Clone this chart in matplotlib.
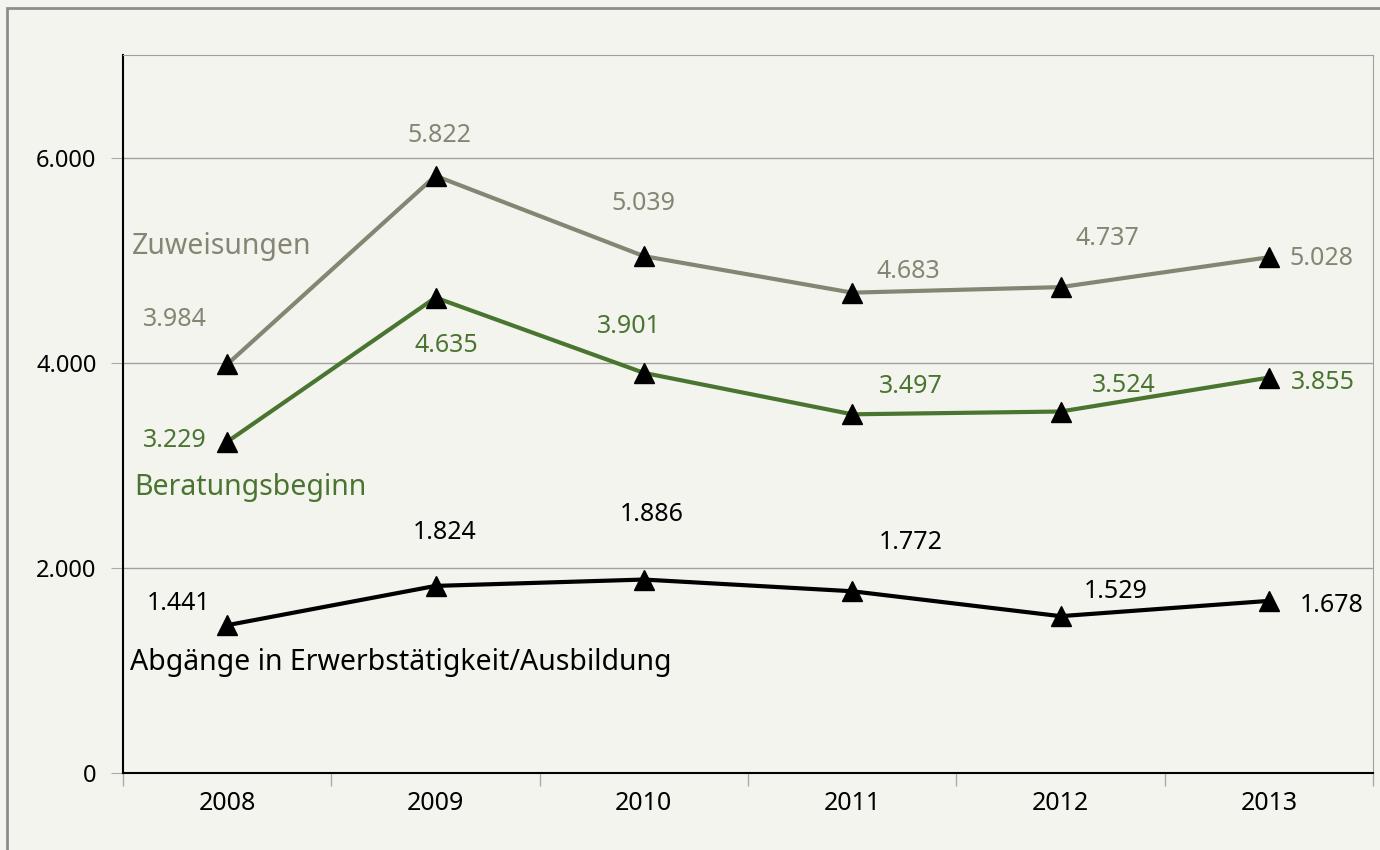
import matplotlib.pyplot as plt
from matplotlib.patches import Rectangle
from matplotlib.ticker import FuncFormatter

years = ['2008', '2009', '2010', '2011', '2012', '2013']
zuweisungen = [3984, 5822, 5039, 4683, 4737, 5028]
beratung = [3229, 4635, 3901, 3497, 3524, 3855]
abgaenge = [1441, 1824, 1886, 1772, 1529, 1678]

BG = '#f4f4ef'
GRAY = '#858573'
GREEN = '#4a7530'

plt.rcParams['font.family'] = ['Noto Sans', 'DejaVu Sans']

fig = plt.figure(figsize=(13.8, 8.5), dpi=100, facecolor=BG)
ax = fig.add_axes([123 / 1380, 77 / 850, 1250 / 1380, 718 / 850])
ax.set_facecolor(BG)

# outer frame
fig.patches.append(Rectangle((7 / 1380, -0.1), 1.2, 0.1 + 842 / 850, transform=fig.transFigure,
                             fill=False, edgecolor='#8c8c8c', linewidth=2, zorder=0))

x = list(range(len(years)))

# label offsets in pixels (dx, dy), positive dy = up
off_z = [(-52, 45), (4, 40), (0, 53), (56, 21), (47, 49), (53, -1)]
off_b = [(-52, 1), (11, -48), (-15, 46), (59, 28), (63, 26), (54, -5)]
off_a = [(-49, 22), (9, 53), (8, 65), (59, 49), (55, 25), (63, -5)]

series = [
    (zuweisungen, GRAY, off_z),
    (beratung, GREEN, off_b),
    (abgaenge, 'black', off_a),
]

for vals, col, offs in series:
    ax.plot(x, vals, color=col, linewidth=3, zorder=3)
    ax.plot(x, vals, linestyle='none', marker='^', markersize=14, color='black', zorder=4)
    for xi, v, (dx, dy) in zip(x, vals, offs):
        ax.annotate(f'{v:,}'.replace(',', '.'), (xi, v), xytext=(dx, dy),
                    textcoords='offset pixels', ha='center', va='center',
                    fontsize=18, color=col)

ax.text(-0.457, 5130, 'Zuweisungen', color=GRAY, fontsize=20.5, va='center', ha='left')
ax.text(-0.447, 2780, 'Beratungsbeginn', color=GREEN, fontsize=20.5, va='center', ha='left')
ax.text(-0.465, 1073, 'Abgänge in Erwerbstätigkeit/Ausbildung', color='black', fontsize=20.5,
        va='center', ha='left')

ax.set_xlim(-0.5, 5.5)
ax.set_ylim(0, 7000)
ax.set_yticks([0, 2000, 4000, 6000])
ax.yaxis.set_major_formatter(FuncFormatter(lambda v, p: f'{int(v):,}'.replace(',', '.')))
ax.grid(axis='y', color='#a0a0a0', linewidth=1)
ax.set_axisbelow(True)

ax.set_xticks([i - 0.5 for i in range(len(years) + 1)])
ax.set_xticklabels([])
ax.set_xticks(x, minor=True)
ax.set_xticklabels(years, minor=True)
ax.tick_params(axis='x', which='major', length=9, color='#aaaaaa', width=1)
ax.tick_params(axis='x', which='minor', length=0, labelsize=18, pad=13)
ax.tick_params(axis='y', length=9, color='#aaaaaa', labelsize=17, pad=10)

ax.spines['left'].set_color('black')
ax.spines['bottom'].set_color('black')
ax.spines['left'].set_linewidth(1.5)
ax.spines['bottom'].set_linewidth(1.5)
ax.spines['top'].set_color('#a0a0a0')
ax.spines['right'].set_color('#a0a0a0')

fig.savefig('out.png', dpi=100, facecolor=BG)
